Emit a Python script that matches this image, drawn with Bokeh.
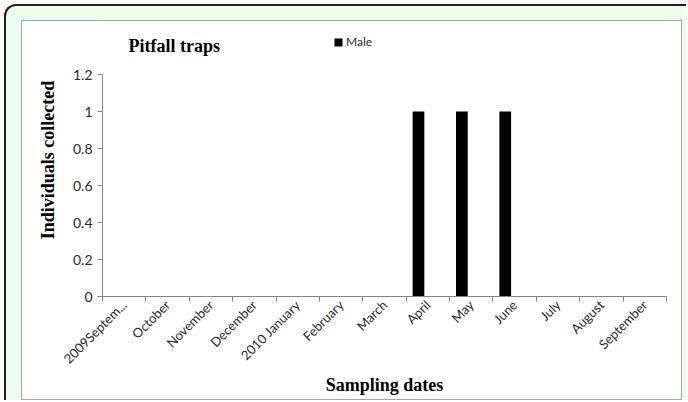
import numpy as np
from bokeh.plotting import figure
from bokeh.models import Range1d, FixedTicker, Label, Legend, LegendItem
from bokeh.layouts import column
from bokeh.embed import file_html
from bokeh.resources import INLINE

categories = ["2009Septem...", "October", "November", "December", "2010 January",
              "February", "March", "April", "May", "June", "July", "August", "September"]
male = [0, 0, 0, 0, 0, 0, 0, 1, 1, 1, 0, 0, 0]
y_ticks = [0, 0.2, 0.4, 0.6, 0.8, 1, 1.2]
y_tick_labels = ["0", "0.2", "0.4", "0.6", "0.8", "1", "1.2"]

n = len(categories)
centers = [float(i) + 0.5 for i in range(n)]
bounds = [float(i) for i in range(n + 1)]
bar_x = [c - 0.217 for c in centers]

p = figure(width=659, height=378, x_range=Range1d(0, n), y_range=Range1d(0, 1.476),
           output_backend="svg", toolbar_location=None,
           min_border_left=80, min_border_right=15, min_border_top=2, min_border_bottom=103)
p.title.text = ""
p.outline_line_color = None
p.background_fill_color = "white"
p.border_fill_color = "white"
p.xgrid.visible = False
p.ygrid.visible = False

r = p.vbar(x=bar_x, top=male, width=0.27, fill_color="black", line_color=None)

axis_col = "#868686"
lab_col = "#2a2a2a"
tick_font = "Lato"

xa = p.xaxis[0]
xa.ticker = FixedTicker(ticks=centers, minor_ticks=bounds)
xa.major_label_overrides = {c: lab for c, lab in zip(centers, categories)}
xa.major_label_orientation = np.pi / 4
xa.major_tick_out = 0
xa.major_tick_in = 0
xa.minor_tick_out = 5
xa.minor_tick_in = 0
xa.minor_tick_line_color = axis_col
xa.axis_line_color = axis_col
xa.major_label_text_font = tick_font
xa.major_label_text_font_size = "13px"
xa.major_label_text_color = lab_col
xa.major_label_standoff = 1
xa.axis_label = "Sampling dates"
xa.axis_label_text_font = "Liberation Serif"
xa.axis_label_text_font_style = "bold"
xa.axis_label_text_font_size = "18px"
xa.axis_label_text_color = "black"
xa.axis_label_standoff = 0

ya = p.yaxis[0]
ya.ticker = FixedTicker(ticks=y_ticks, minor_ticks=[])
ya.bounds = (0, 1.2)
ya.major_label_overrides = {t: lab for t, lab in zip(y_ticks, y_tick_labels)}
ya.major_tick_out = 5
ya.major_tick_in = 0
ya.minor_tick_out = 0
ya.minor_tick_in = 0
ya.major_tick_line_color = axis_col
ya.axis_line_color = axis_col
ya.major_label_text_font = tick_font
ya.major_label_text_font_size = "14px"
ya.major_label_text_color = lab_col
ya.major_label_standoff = 5
ya.axis_label = "Individuals collected"
ya.axis_label_text_font = "Liberation Serif"
ya.axis_label_text_font_style = "bold"
ya.axis_label_text_font_size = "18px"
ya.axis_label_text_color = "black"
ya.axis_label_standoff = 12

title = Label(x=0.6, y=1.353, text="Pitfall traps", text_font="Liberation Serif",
              text_font_style="bold", text_font_size="18px", text_color="black",
              text_align="left", text_baseline="middle")
p.add_layout(title)

legend = Legend(items=[LegendItem(label="Male", renderers=[r])], location=(231, 247),
                padding=0, margin=0, spacing=0, glyph_width=10, glyph_height=10,
                label_height=10, label_standoff=3, label_text_font=tick_font,
                label_text_font_size="12px", label_text_color=lab_col,
                border_line_color=None, background_fill_alpha=0)
p.add_layout(legend)

inner = column(p, styles={"border": "1px solid #a6a6a6"})
green = column(inner, styles={"background-color": "#eefcee",
                              "border-left": "2px solid #1e1e1e",
                              "border-top": "2px solid #1e1e1e",
                              "border-top-left-radius": "12px",
                              "padding": "14px 4px 0px 15px"})
root = column(green, styles={"padding": "4px 0px 0px 4px"})

open("out.html", "w").write(file_html(root, INLINE))
